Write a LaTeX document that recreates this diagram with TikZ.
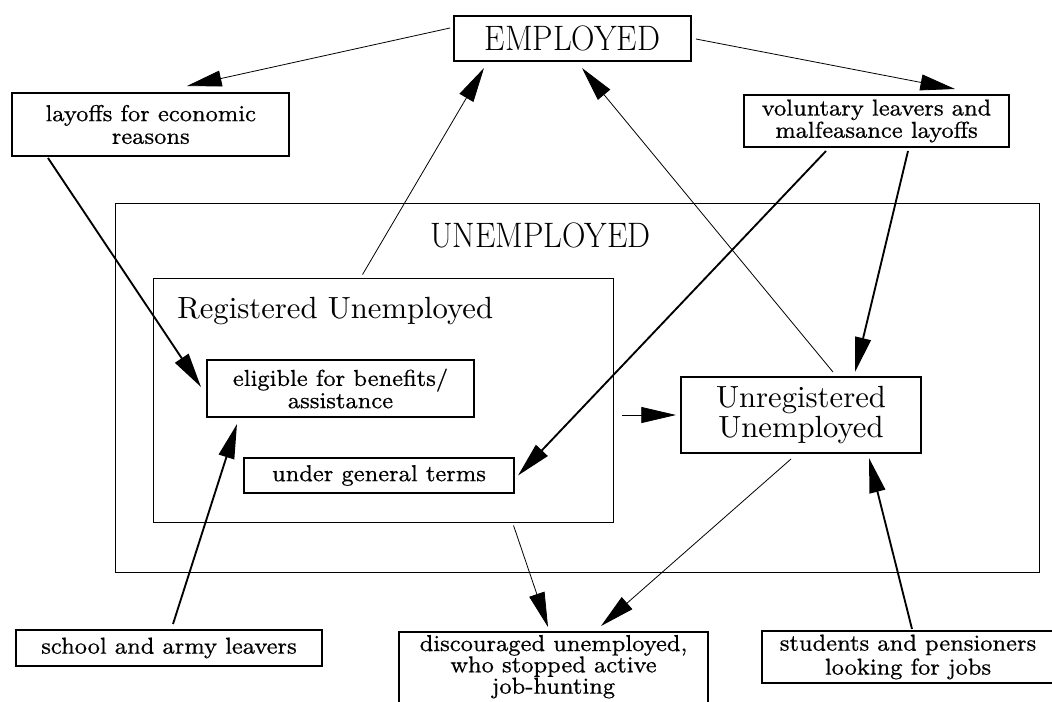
\documentclass[tikz,border=0pt]{standalone}
\usepackage{fontspec}
\usetikzlibrary{arrows.meta}
% optical sizes of Latin Modern, chosen per role
\newfontfamily\fsmall[FakeBold=0.5]{lmroman8-regular.otf}
\newfontfamily\fmid{lmroman10-regular.otf}
\newfontfamily\fbig[FakeStretch=0.92]{lmroman17-regular.otf}

\begin{document}
\begin{tikzpicture}[x=0.75pt,y=-0.75pt,
  box/.style={draw, line width=1.5pt, inner sep=0pt, align=center,
    font=\fsmall\fontsize{17.3}{15.5}\selectfont},
  area/.style={draw, line width=0.7pt, inner sep=0pt},
  title/.style={inner sep=0pt},
  flow/.style={line width=1.4pt, -{Triangle[length=26pt,width=12pt]}},
  link/.style={line width=0.6pt, -{Triangle[length=26pt,width=12pt]}},
]
\useasboundingbox (0,0) rectangle (1052,701);
\fill[white] (0,0) rectangle (1052,701);
\clip (0,0) rectangle (1052,701);

% the two nested areas and their headings
\node[area, minimum width=693pt, minimum height=276.75pt] (unemp) at (577,387.5) {};
\node[area, minimum width=345pt, minimum height=183pt] (reg) at (383,400) {};
\node[title, anchor=base, font=\fbig\fontsize{26.5}{30}\selectfont] (unempT) at (540.5,247) {UNEMPLOYED};
\node[title, anchor=base west, font=\fmid\fontsize{23}{27}\selectfont] (regT) at (177,318) {Registered Unemployed};

% states and flows
\node[box, minimum width=177.75pt, minimum height=33.75pt, font=\fbig\fontsize{26.5}{30}\selectfont] (emp) at (572.5,38.5) {EMPLOYED};
\node[box, minimum width=207.4pt, minimum height=47.25pt, font=\fsmall\fontsize{17.3}{17}\selectfont] (lay) at (150.75,124.5) {layoffs for economic\\reasons};
\node[box, minimum width=198.75pt, minimum height=39pt] (vol) at (876.5,121) {voluntary leavers and\\malfeasance layoffs};
\node[box, minimum width=200.25pt, minimum height=42.75pt] (elig) at (340.5,388.5) {eligible for benefits/\\assistance};
\node[box, minimum width=202.5pt, minimum height=26.25pt] (gen) at (379,475.5) {under general terms};
\node[box, minimum width=180pt, minimum height=57pt, font=\fmid\fontsize{23}{22.5}\selectfont] (unreg) at (801,415) {Unregistered\\Unemployed};
\node[box, minimum width=229.5pt, minimum height=27pt] (school) at (169,648) {school and army leavers};
\node[box, anchor=north, minimum width=231.75pt, inner ysep=2.25pt, font=\fsmall\fontsize{17.3}{16}\selectfont] (disc) at (553.5,631) {discouraged unemployed,\\who stopped active\\job-hunting\rule[-8pt]{0pt}{8pt}};
\node[box, minimum width=219pt, minimum height=39pt, font=\fsmall\fontsize{17.3}{18}\selectfont] (stud) at (908,657) {students and pensioners\\looking for jobs};

% connectors
\draw[link] ([shift={(-3,13)}]emp.north west) -- ([shift={(175.5,-6)}]lay.north west);
\draw[link] ([shift={(4,24)}]emp.north east) -- ([shift={(212,-5)}]vol.north west);
\draw[flow] ([shift={(36.5,1)}]lay.south west) -- ([shift={(-5,-1.5)}]elig.west);
\draw[flow] ([shift={(83,3)}]vol.south west) -- ([shift={(3,0)}]gen.east);
\draw[flow] ([shift={(165,3)}]vol.south west) -- ([shift={(175,-4)}]unreg.north west);
\draw[link] ([shift={(210,-3)}]reg.north west) -- ([shift={(31,6)}]emp.south west);
\draw[link] ([shift={(153,-4)}]unreg.north west) -- ([shift={(129,6)}]emp.south west);
\draw[link] ([shift={(9,15)}]reg.east) -- ([shift={(-4,0)}]unreg.west);
\draw[link] ([shift={(361,3)}]reg.south west) -- ([shift={(150,-4)}]disc.north west);
\draw[link] ([shift={(111,5)}]unreg.south west) -- ([shift={(203,-5)}]disc.north west);
\draw[flow] ([shift={(158,-5)}]school.north west) -- ([shift={(31,6)}]elig.south west);
\draw[flow] ([shift={(151,-1)}]stud.north west) -- ([shift={(189,4)}]unreg.south west);
\end{tikzpicture}
\end{document}
